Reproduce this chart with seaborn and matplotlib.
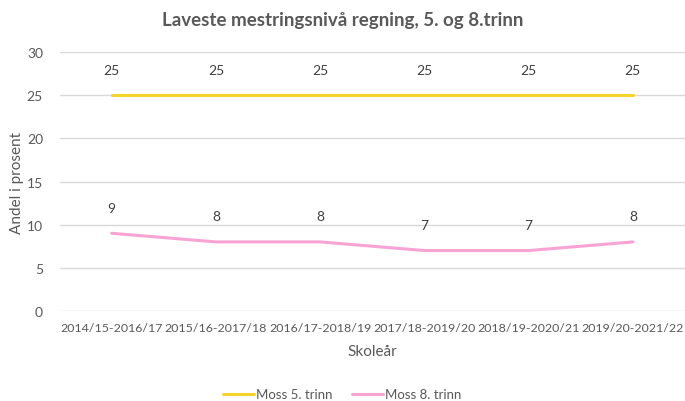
import matplotlib
matplotlib.use("Agg")
import matplotlib.pyplot as plt
import seaborn as sns
import pandas as pd

categories = ["2014/15-2016/17", "2015/16-2017/18", "2016/17-2018/19",
              "2017/18-2019/20", "2018/19-2020/21", "2019/20-2021/22"]
moss5 = [25, 25, 25, 25, 25, 25]
moss8 = [9, 8, 8, 7, 7, 8]
series_names = ["Moss 5. trinn", "Moss 8. trinn"]
colors = ["#F5D327", "#F7A3D3"]

sns.set_theme(style="white")
plt.rcParams['font.family'] = ['Lato', 'DejaVu Sans']

df = pd.DataFrame({
    "Skoleår": categories * 2,
    "pos": list(range(len(categories))) * 2,
    "Andel": moss5 + moss8,
    "Serie": [series_names[0]] * len(categories) + [series_names[1]] * len(categories),
})

fig = plt.figure(figsize=(6.85, 4.02), dpi=100)
ax = fig.add_axes([0.087, 0.224, 0.913, 0.644])

sns.lineplot(data=df, x="pos", y="Andel", hue="Serie", palette=colors,
             linewidth=2.2, ax=ax, legend=True)

txt = "#595959"
for vals in (moss5, moss8):
    for i, v in enumerate(vals):
        ax.annotate(str(v), (i, v), xytext=(0, 14), textcoords="offset points",
                    ha="center", va="bottom", fontsize=10, color="#404040")

ax.set_xlim(-0.5, len(categories) - 0.5)
ax.set_ylim(0, 30)
ax.set_yticks(range(0, 31, 5))
ax.set_xticks(range(len(categories)))
ax.set_xticklabels(categories, fontsize=8.9, color=txt)
ax.tick_params(axis="y", labelsize=10, labelcolor=txt, length=0, pad=12)
ax.tick_params(axis="x", length=0, pad=8)
ax.grid(axis="y", color="#D9D9D9", linewidth=1)
ax.set_axisbelow(True)
for s in ax.spines.values():
    s.set_visible(False)

ax.set_xlabel("Skoleår", fontsize=11, color=txt, labelpad=8)
ax.set_ylabel("Andel i prosent", fontsize=11, color=txt, labelpad=2)
fig.text(0.5, 0.948, "Laveste mestringsnivå regning, 5. og 8.trinn",
         ha="center", va="center", fontsize=13.5, fontweight="bold", color=txt)

handles, labels = ax.get_legend_handles_labels()
ax.legend(handles, labels, loc="center", ncol=2, frameon=False, fontsize=9.5,
          labelcolor=txt, handlelength=2.3, columnspacing=1.5, handletextpad=0.2)
leg = ax.get_legend()
leg.set_bbox_to_anchor((0.5, 0.017), transform=fig.transFigure)

fig.savefig("out.png", dpi=100)
